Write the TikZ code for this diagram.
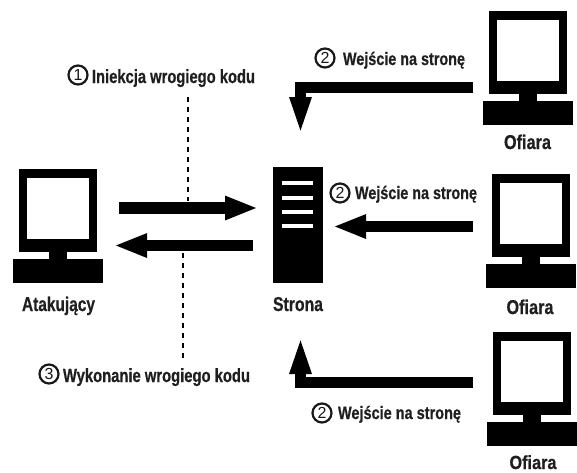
\documentclass[tikz,border=0pt]{standalone}
\usepackage{graphicx}
\usepackage{fontspec}
\setmainfont{Liberation Sans}
\newfontfamily\heavyfont{Liberation Sans}[BoldFont={Liberation Sans Bold},BoldFeatures={FakeBold=0.6}]
\usetikzlibrary{arrows.meta}
\newcommand{\fitw}[3]{\sbox0{\heavyfont\bfseries\fontsize{#1}{#1}\selectfont #3}\pgfmathsetmacro\fitr{#2/\wd0}\scalebox{\fitr}[1]{\usebox0}}
\newcommand{\pcdraw}[3]{%
  \begin{scope}[shift={(#1,#2)}]
    \node[solid box, minimum width=78pt, minimum height=83pt] (#3mon) at (58,210.5) {};
    \node[white box, minimum width=62pt, minimum height=61pt] (#3scr) at (58,208.5) {};
    \node[solid box, minimum width=18pt, minimum height=8pt] (#3std) at (58,255.5) {};
    \node[solid box, minimum width=90pt, minimum height=24pt] (#3base) at (58,271) {};
  \end{scope}}
\tikzset{
  x=1pt,y=-1pt,
  solid box/.style={fill=black,draw=none,inner sep=0pt,outer sep=0pt},
  white box/.style={fill=white,draw=none,inner sep=0pt,outer sep=0pt},
  conn/.style={line width=11.5pt,line join=miter,black,-{Triangle[length=33pt,width=22pt]}},
  elbow/.style={line width=11.5pt,line join=miter,black,-{Triangle[length=44pt,width=18pt]}},
  guide/.style={line width=2.5pt,dash pattern=on 5pt off 5pt,black},
  lbl/.style={inner sep=0pt,outer sep=0pt,text=black!88,anchor=base},
  lblw/.style={inner sep=0pt,outer sep=0pt,text=black!88,anchor=base west},
  badge/.style={circle,draw=black!90,line width=2.2pt,minimum size=19pt,inner sep=0pt,font=\fontsize{16}{16}\selectfont,text=black!90},
}
\begin{document}
\begin{tikzpicture}
\useasboundingbox (0,0) rectangle (577,472);
\fill[white] (0,0) rectangle (577,472);
% computers
\pcdraw{0}{0}{att}
\pcdraw{470}{-158}{vica}
\pcdraw{473}{5}{vicb}
\pcdraw{474}{163}{vicc}
% server
\node[solid box, minimum width=50pt, minimum height=116pt] (srv) at (298,225) {};
\foreach \yy/\nn in {183/a,197.5/b,212/c,226/d}
  \node[white box, minimum width=31pt, minimum height=4pt] (bar\nn) at (297.5,\yy) {};
% labels under computers
\node[lbl] (latt) at (58.5,311) {\fitw{20}{73}{Atakujący}};
\node[lbl] (lsrv) at (298,311) {\fitw{20}{50}{Strona}};
\node[lbl] (lva) at (527.5,149) {\fitw{20}{47}{Ofiara}};
\node[lbl] (lvb) at (530,314) {\fitw{20}{47}{Ofiara}};
\node[lbl] (lvc) at (533,469) {\fitw{19}{47}{Ofiara}};
% guides
\coordinate (g1a) at (188,97);
\coordinate (g1b) at (188,201);
\coordinate (g2a) at (183,253);
\coordinate (g2b) at (183,358);
\draw[guide] (g1a) -- (g1b);
\draw[guide] (g2a) -- (g2b);
% arrows
\coordinate (a1s) at (119,208);
\coordinate (a1e) at (258,208);
\coordinate (a2s) at (253,245.5);
\coordinate (a2e) at (114,245.5);
\coordinate (b1s) at (473,87.5);
\coordinate (b1c) at (300.5,87.5);
\coordinate (b1e) at (300.5,141);
\coordinate (b2s) at (473,226.5);
\coordinate (b2e) at (333,226.5);
\coordinate (b3s) at (473,382.5);
\coordinate (b3c) at (300.5,382.5);
\coordinate (b3e) at (300.5,330);
\draw[conn] (a1s) -- (a1e);
\draw[conn] (a2s) -- (a2e);
\draw[elbow] (b1s) -- (b1c) -- (b1e);
\draw[conn] (b2s) -- (b2e);
\draw[elbow] (b3s) -- (b3c) -- (b3e);
% step labels
\node[badge] (n1) at (78,75) {1};
\node[lblw] (t1) at (92,83) {\fitw{19}{163}{Iniekcja wrogiego kodu}};
\node[badge] (n3) at (49,374) {3};
\node[lblw] (t3) at (63,382) {\fitw{19}{187}{Wykonanie wrogiego kodu}};
\node[badge] (n2a) at (325,58) {2};
\node[lblw] (t2a) at (343,65) {\fitw{18}{122}{Wejście na stronę}};
\node[badge] (n2b) at (340,193) {2};
\node[lblw] (t2b) at (355,199) {\fitw{18}{122}{Wejście na stronę}};
\node[badge] (n2c) at (322,413) {2};
\node[lblw] (t2c) at (338,419) {\fitw{18}{123}{Wejście na stronę}};
\end{tikzpicture}
\end{document}
